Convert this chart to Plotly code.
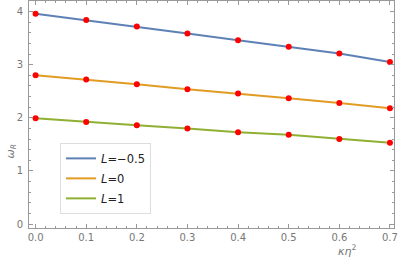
import plotly.graph_objects as go

# kappa * eta^2 values
k_eta2 = [0.0, 0.1, 0.2, 0.3, 0.4, 0.5, 0.6, 0.7]

# omega_R for each L
w_L_m05 = [3.96, 3.84, 3.72, 3.59, 3.46, 3.34, 3.21, 3.05]
w_L_0 = [2.80, 2.72, 2.63, 2.54, 2.46, 2.37, 2.28, 2.18]
w_L_1 = [1.99, 1.92, 1.86, 1.80, 1.73, 1.68, 1.60, 1.53]

labels = ["<i>L</i>=\u22120.5", "<i>L</i>=0", "<i>L</i>=1"]
colors = ["#5E81B5", "#E19C24", "#8FB032"]

fig = go.Figure()
for i, (ys, name, c) in enumerate(zip([w_L_m05, w_L_0, w_L_1], labels, colors)):
    fig.add_trace(go.Scatter(x=k_eta2, y=ys, mode="lines", name=name, legendgroup=str(i),
                             line=dict(color=c, width=2)))
for ys in [w_L_m05, w_L_0, w_L_1]:
    fig.add_trace(go.Scatter(x=k_eta2, y=ys, mode="markers", showlegend=False,
                             marker=dict(color="#FF0000", size=6)))

axis_common = dict(showgrid=False, zeroline=False, showline=True, linecolor="#999999",
                   linewidth=1, mirror="allticks", ticks="inside", ticklen=4,
                   tickcolor="#999999", tickfont=dict(family="DejaVu Sans", size=10, color="#777777"))

fig.update_xaxes(range=[-0.013, 0.708], tickvals=[0, 0.1, 0.2, 0.3, 0.4, 0.5, 0.6, 0.7],
                 ticktext=["0.0", "0.1", "0.2", "0.3", "0.4", "0.5", "0.6", "0.7"],
                 minor=dict(ticks="inside", ticklen=2, dtick=0.02, tickcolor="#999999"),
                 **axis_common)
fig.update_yaxes(range=[-0.075, 4.2], tickvals=[0, 1, 2, 3, 4], ticklabelstandoff=3,
                 minor=dict(ticks="inside", ticklen=2, dtick=0.2, tickcolor="#999999"),
                 **axis_common)

fig.add_annotation(text="<i>\u03c9<sub>R</sub></i>", xref="paper", yref="paper",
                   x=-0.075, y=0.34, showarrow=False, textangle=-90,
                   font=dict(family="DejaVu Sans", size=11, color="#777777"))
fig.add_annotation(text="<i>\u03ba\u03b7</i><sup>2</sup>", xref="paper", yref="paper",
                   x=0.87, y=-0.1, yanchor="middle", showarrow=False, xanchor="center",
                   font=dict(family="DejaVu Sans", size=11, color="#777777"))

fig.update_layout(width=399, height=266, plot_bgcolor="white", paper_bgcolor="white",
                  margin=dict(l=29, r=5, t=1, b=38),
                  legend=dict(x=0.085, y=0.375, xanchor="left", yanchor="top",
                              bordercolor="#DDDDDD", borderwidth=1, bgcolor="white",
                              font=dict(family="DejaVu Sans", size=11.5, color="#222222"),
                              tracegroupgap=1))

fig.write_html("out.html", config={"displayModeBar": False},
               post_script="document.body.style.margin='0';")
